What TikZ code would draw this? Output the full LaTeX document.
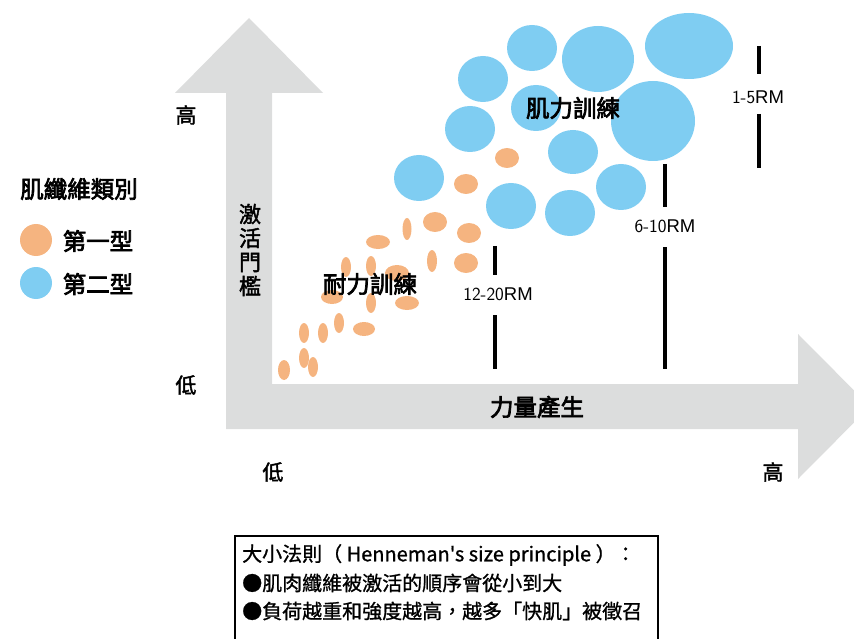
\documentclass[tikz,border=0pt]{standalone}
\usepackage{fontspec}
\setmainfont{Noto Sans CJK TC}[Ligatures=TeXOff]
\newfontfamily\boxcjk{Noto Sans CJK TC}[Ligatures=TeXOff, FakeBold=1]
\newfontfamily\medcjk{Noto Sans CJK TC}[Ligatures=TeXOff, FakeBold=1.8]
\newfontfamily\semicjk{Noto Sans CJK TC}[Ligatures=TeXOff, FakeBold=3]
\newfontfamily\rmfont{Liberation Sans}
\definecolor{axisgrey}{RGB}{220,221,221}
\definecolor{fibblue}{RGB}{127,205,242}
\definecolor{fiborange}{RGB}{245,180,128}
\tikzset{
  lbl/.style={inner sep=0pt, font=\fontsize{21}{24}\selectfont\medcjk},
  blbl/.style={inner sep=0pt, font=\fontsize{23.5}{26}\selectfont\semicjk},
  rmlbl/.style={inner sep=0pt, font=\fontsize{18.5}{20}\selectfont\rmfont},
  boxtxt/.style={inner sep=0pt, anchor=west, font=\fontsize{20}{22}\selectfont\boxcjk},
  rmbar/.style={line width=4.5pt},
  bub/.style={fill=fibblue},
  dot/.style={fill=fiborange}
}
\newcommand{\thinnum}[1]{{\sffamily #1}}
\begin{document}
\begin{tikzpicture}[x=1pt,y=-1pt]
\useasboundingbox (0,0) rectangle (854,639);
\begin{scope}
\clip (0,0) rectangle (854,639);
\fill[axisgrey] (226,429) -- (798,429) -- (798,479) -- (870,406.5) -- (798,334) -- (798,384)
  -- (272,384) -- (272,93) -- (323,93) -- (249,18) -- (175,93) -- (226,93) -- cycle;
\draw[line width=1.6pt] (235,536) rectangle (658,660);
\end{scope}

% blue fibres
\fill[bub] (532,48) ellipse [x radius=25pt, y radius=23pt];
\fill[bub] (598,59) ellipse [x radius=36pt, y radius=33pt];
\fill[bub] (689,46) ellipse [x radius=44pt, y radius=33pt];
\fill[bub] (483,79) ellipse [x radius=25pt, y radius=23pt];
\fill[bub] (536,108) ellipse [x radius=25pt, y radius=23pt];
\fill[bub] (653,121) ellipse [x radius=42pt, y radius=40pt];
\fill[bub] (470,129) ellipse [x radius=25pt, y radius=23pt];
\fill[bub] (573,152) ellipse [x radius=25pt, y radius=22pt];
\fill[bub] (419,178) ellipse [x radius=25pt, y radius=23pt];
\fill[bub] (511,206) ellipse [x radius=25pt, y radius=23pt];
\fill[bub] (570,213) ellipse [x radius=25pt, y radius=23pt];
\fill[bub] (621,187) ellipse [x radius=25pt, y radius=23pt];

% orange fibres
\fill[dot] (507,158) ellipse [x radius=12pt, y radius=10pt];
\fill[dot] (466,184) ellipse [x radius=12pt, y radius=10pt];
\fill[dot] (435,222) ellipse [x radius=12pt, y radius=10pt];
\fill[dot] (469,233) ellipse [x radius=12pt, y radius=10pt];
\fill[dot] (466,263) ellipse [x radius=12pt, y radius=10pt];
\fill[dot] (407,229) ellipse [x radius=4.5pt, y radius=11pt];
\fill[dot] (378,242) ellipse [x radius=12pt, y radius=7pt];
\fill[dot] (432,261) ellipse [x radius=5pt, y radius=11pt];
\fill[dot] (346,267) ellipse [x radius=5pt, y radius=10pt];
\fill[dot] (371,266) ellipse [x radius=5pt, y radius=10pt];
\fill[dot] (397,273) ellipse [x radius=12pt, y radius=8pt];
\fill[dot] (332,297) ellipse [x radius=11pt, y radius=7pt];
\fill[dot] (371,303) ellipse [x radius=5pt, y radius=10pt];
\fill[dot] (407,303) ellipse [x radius=12pt, y radius=7pt];
\fill[dot] (339,323) ellipse [x radius=5pt, y radius=10pt];
\fill[dot] (364,329) ellipse [x radius=11pt, y radius=7pt];
\fill[dot] (304,333) ellipse [x radius=5pt, y radius=10pt];
\fill[dot] (323,333) ellipse [x radius=5pt, y radius=10pt];
\fill[dot] (304,358) ellipse [x radius=5pt, y radius=10pt];
\fill[dot] (313,367) ellipse [x radius=5pt, y radius=10pt];
\fill[dot] (284,370) ellipse [x radius=6pt, y radius=10pt];

% RM bars
\draw[rmbar] (495,246) -- (495,275);
\draw[rmbar] (495,315) -- (495,369);
\draw[rmbar] (665,164) -- (665,207);
\draw[rmbar] (665,247) -- (665,369);
\draw[rmbar] (759,46) -- (759,74);
\draw[rmbar] (759,114) -- (759,168);
\node[rmlbl] (rm1) at (498,294) {\thinnum{12-20}RM};
\node[rmlbl] (rm2) at (665,226) {\thinnum{6-10}RM};
\node[rmlbl] (rm3) at (758,97) {\thinnum{1-5}RM};

% training labels
\node[blbl] (endur) at (370,284) {耐力訓練};
\node[blbl] (stren) at (573,108) {肌力訓練};

% axis labels
\node[lbl] (yhi) at (186,115) {高};
\node[lbl] (ylo) at (186,385) {低};
\node[lbl] (xlo) at (273,472) {低};
\node[lbl] (xhi) at (773,472) {高};
\node[lbl, align=center, font=\fontsize{22}{24}\selectfont\medcjk] (ytitle) at (250,250) {激\\活\\門\\檻};
\node[blbl] (xtitle) at (537,407) {力量產生};

% legend
\node[blbl] (legt) at (79,189) {肌纖維類別};
\fill[fiborange] (36,240) circle [radius=16pt];
\fill[fibblue] (36,283) circle [radius=16pt];
\node[blbl] (leg1) at (98,241) {第一型};
\node[blbl] (leg2) at (98,284) {第二型};

% rule box
\node[boxtxt] (b1) at (242,555) {大小法則（ Henneman's size principle ）：};
\node[boxtxt] (b2) at (242,583) {●肌肉纖維被激活的順序會從小到大};
\node[boxtxt] (b3) at (242,611) {●負荷越重和強度越高，越多「快肌」被徵召};
\end{tikzpicture}
\end{document}
